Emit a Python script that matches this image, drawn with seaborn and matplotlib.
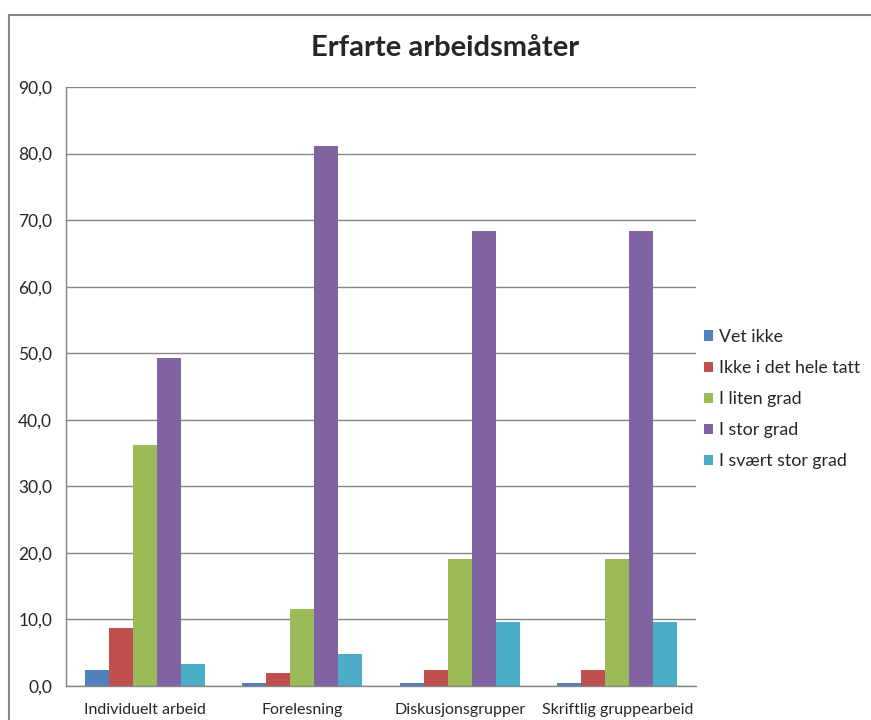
import matplotlib
matplotlib.use("Agg")
import matplotlib.pyplot as plt
import seaborn as sns
import pandas as pd
from matplotlib.lines import Line2D
from matplotlib.patches import Patch
from matplotlib.ticker import FuncFormatter

categories = ["Individuelt arbeid", "Forelesning", "Diskusjonsgrupper", "Skriftlig gruppearbeid"]
series = ["Vet ikke", "Ikke i det hele tatt", "I liten grad", "I stor grad", "I svært stor grad"]
vet_ikke = [2.4, 0.5, 0.5, 0.5]
ikke_i_det_hele_tatt = [8.7, 1.9, 2.4, 2.4]
i_liten_grad = [36.2, 11.5, 19.1, 19.1]
i_stor_grad = [49.3, 81.2, 68.4, 68.4]
i_svaert_stor_grad = [3.3, 4.8, 9.6, 9.6]
colors = ["#4F81BD", "#C0504D", "#9BBB59", "#8064A2", "#4BACC6"]

values = [vet_ikke, ikke_i_det_hele_tatt, i_liten_grad, i_stor_grad, i_svaert_stor_grad]
rows = []
for s, vals in zip(series, values):
    for c, v in zip(categories, vals):
        rows.append({"Kategori": c, "Serie": s, "Verdi": v})
df = pd.DataFrame(rows)

sns.set_style("white")
plt.rcParams["font.family"] = ["Lato", "DejaVu Sans"]

fig = plt.figure(figsize=(8.71, 7.2), dpi=100)
ax = fig.add_axes([66/871, 34/720, 630/871, 599/720])

sns.barplot(data=df, x="Kategori", y="Verdi", hue="Serie", order=categories,
            hue_order=series, palette=colors, width=0.76, gap=0,
            saturation=1, edgecolor="none", linewidth=0, ax=ax, legend=False)

ax.set_ylim(0, 90)
ax.set_xlim(-0.5, 3.5)
ax.set_yticks(range(0, 91, 10))
ax.yaxis.set_major_formatter(FuncFormatter(lambda v, p: f"{v:.1f}".replace(".", ",")))
ax.grid(axis="y", color="#868686", linewidth=1.0)
ax.set_axisbelow(True)
ax.set_xlabel("")
ax.set_ylabel("")
for side in ["top", "right"]:
    ax.spines[side].set_visible(False)
ax.spines["left"].set_color("#868686")
ax.spines["bottom"].set_color("#868686")
ax.spines["left"].set_linewidth(1.0)
ax.spines["bottom"].set_linewidth(1.0)
ax.tick_params(axis="y", length=0, pad=10, labelsize=12.5)
ax.tick_params(axis="x", length=0, pad=12, labelsize=11.5)

handles = [Patch(facecolor=c, edgecolor="none") for c in colors]
leg = fig.legend(handles, series, loc="center left", bbox_to_anchor=(697/871, 1 - 399/720),
                 frameon=False, fontsize=12.8, handlelength=0.5, handleheight=0.5,
                 handletextpad=0.35, labelspacing=0.85, borderaxespad=0)

fig.text(445/871, 1 - 48/720, "Erfarte arbeidsmåter", ha="center", va="center",
         fontsize=21, fontweight="bold")

# outer chart border (Excel chart area)
fig.add_artist(Line2D([9/871, 1.0], [1 - 15/720, 1 - 15/720], transform=fig.transFigure,
                      color="#878787", linewidth=1.5))
fig.add_artist(Line2D([9/871, 9/871], [0, 1 - 15/720], transform=fig.transFigure,
                      color="#878787", linewidth=1.5))

fig.savefig("out.png", dpi=100, facecolor="white")
